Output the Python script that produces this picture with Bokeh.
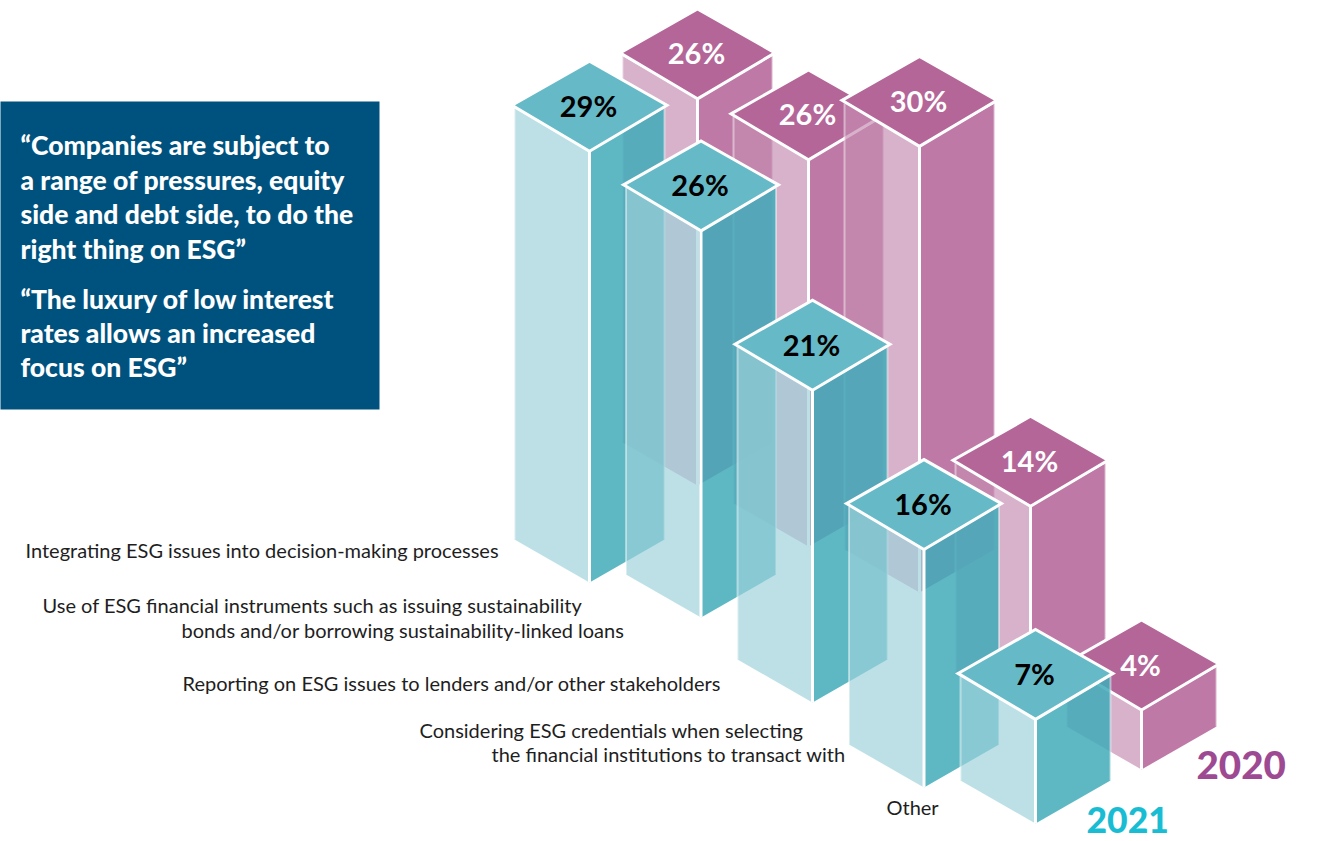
from bokeh.embed import file_html
from bokeh.models import Range1d
from bokeh.plotting import figure
from bokeh.resources import INLINE
from bokeh.core.properties import value

# Survey results, percent of respondents
categories = [
    ["Integrating ESG issues into decision-making processes"],
    ["Use of ESG financial instruments such as issuing sustainability",
     "bonds and/or borrowing sustainability-linked loans"],
    ["Reporting on ESG issues to lenders and/or other stakeholders"],
    ["Considering ESG credentials when selecting",
     "the financial institutions to transact with"],
    ["Other"],
]
values_2021 = [29, 26, 21, 16, 7]
values_2020 = [26, 26, 30, 14, 4]
quotes = [
    "\u201cCompanies are subject to",
    "a range of pressures, equity",
    "side and debt side, to do the",
    "right thing on ESG\u201d",
    "\u201cThe luxury of low interest",
    "rates allows an increased",
    "focus on ESG\u201d",
]

# Scene layout, in page pixels
W, H = 1319, 841
UNIT = 14.87          # vertical pixels per percentage point
TOP_HALF_W = 77.5     # half width of a roof diamond
TOP_REAR = 90         # front corner to rear corner of a roof
TOP_SIDE = 46         # front corner to side corners of a roof
FACE_HALF_W = 75      # half width of the prism below the roof
BASE_RISE = 43        # rise of the base edges

# Each series sits on a regular isometric row, with small seat shifts per bar
ROW_2021 = dict(x0=589, dx=111.5, y0=558, dy=66, shift=[24, -7, 12, 31, 1])
ROW_2020 = dict(x0=697, dx=111.0, y0=498, dy=64, shift=[-13, -16, -34, 24, 15])

STYLE_2021 = dict(top="#66BAC7", left="#9CD1DA", right="#41ABBA", text="#000000")
STYLE_2020 = dict(top="#B46698", left="#C68CB1", right="#B36297", text="#FFFFFF")
LEFT_ALPHA, RIGHT_ALPHA = 0.68, 0.85

LABEL_X = [[25], [42, 181], [182], [419, 491], [886]]
LABEL_Y = [[549.5], [604.5, 629.5], [682.5], [729.5, 753.5], [806.5]]
QUOTE_Y = [144, 179, 213, 248, 298, 332, 366]

p = figure(width=W, height=H, output_backend="svg", toolbar_location=None,
           x_range=Range1d(0, W), y_range=Range1d(H, 0), min_border=0,
           outline_line_color=None, background_fill_color="white")
p.axis.visible = False
p.grid.visible = False

# Quote panel
p.quad(left=[-3], right=[379], top=[101], bottom=[409], fill_color="#00527E", line_color=None)
p.text(x=[20] * len(quotes), y=QUOTE_Y, text=quotes, text_color="white",
       text_font=value("Lato Black"), text_font_size="26.5px",
       text_baseline="middle", text_align="left")


def draw_bar(x, base, val, style):
    """One prism: translucent sides first, then the opaque roof and its value."""
    front = base - val * UNIT
    side_top = front - TOP_SIDE + 3
    # left and right faces
    p.patch([x - FACE_HALF_W, x, x, x - FACE_HALF_W],
            [side_top, front, base, base - BASE_RISE],
            fill_color=style["left"], fill_alpha=LEFT_ALPHA, line_color=None)
    p.patch([x, x + FACE_HALF_W, x + FACE_HALF_W, x],
            [front, side_top, base - BASE_RISE, base],
            fill_color=style["right"], fill_alpha=RIGHT_ALPHA, line_color=None)
    # outer edges and front edge
    for ex in (x - FACE_HALF_W, x + FACE_HALF_W):
        p.line([ex, ex], [side_top, base - BASE_RISE], line_color="white",
               line_width=2, line_alpha=0.45)
    p.line([x, x], [front, base], line_color="white", line_width=3)
    # roof
    p.patch([x, x + TOP_HALF_W, x, x - TOP_HALF_W],
            [front, front - TOP_SIDE, front - TOP_REAR, front - TOP_SIDE],
            fill_color=style["top"], fill_alpha=1, line_color="white",
            line_width=3, line_join="miter")
    p.text(x=[x - 1], y=[front - TOP_SIDE], text=[f"{val}%"], text_color=style["text"],
           text_font=value("Lato"), text_font_style="bold", text_font_size="29px",
           text_baseline="middle", text_align="center")


for row, vals, style in ((ROW_2020, values_2020, STYLE_2020),
                         (ROW_2021, values_2021, STYLE_2021)):
    for i, val in enumerate(vals):
        x = row["x0"] + row["dx"] * i
        base = row["y0"] + row["dy"] * i + row["shift"][i]
        draw_bar(x, base, val, style)

# Category captions
for lines, xs, ys in zip(categories, LABEL_X, LABEL_Y):
    p.text(x=xs, y=ys, text=lines, text_color="#1E1E1E", text_font=value("Lato"),
           text_font_size="20px", text_baseline="middle", text_align="left")

# Series names
p.text(x=[1196], y=[764], text=["2020"], text_color="#9E4A92", text_font=value("Lato Black"),
       text_font_size="38.5px", text_baseline="middle")
p.text(x=[1086], y=[819], text=["2021"], text_color="#19BDD3", text_font=value("Lato Black"),
       text_font_size="35.5px", text_baseline="middle")

open("out.html", "w").write(file_html(p, INLINE))
